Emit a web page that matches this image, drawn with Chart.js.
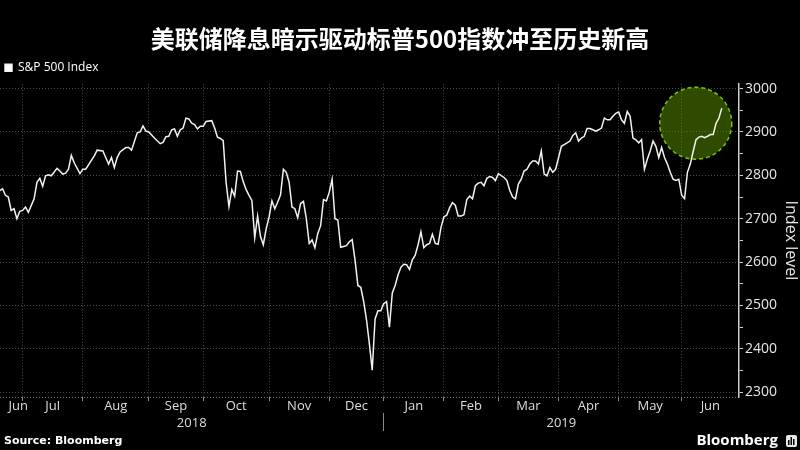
<!DOCTYPE html>
<html>
<head>
<meta charset="utf-8">
<script src="https://cdn.jsdelivr.net/npm/chart.js@4.4.1/dist/chart.umd.min.js"></script>
<style>
  html, body { margin: 0; background: #000; }
</style>
</head>
<body>
<canvas id="myChart" width="800" height="450"></canvas>
<script>
// data block
// trading-day index (0 = first session of Jul 2018) and S&P 500 close
const tradingDay = [
    -8, -7, -6, -5, -4, -3, -2, -1, 0, 1, 2, 4, 5, 6, 7, 8, 9, 10, 12, 13, 14, 15, 16, 17, 18, 20, 21, 22,
    25, 26, 28, 29, 30, 31, 32, 33, 34, 36, 37, 38, 40, 41, 42, 43, 44, 46, 48, 49, 50, 51, 52, 53, 54, 55, 56, 57,
    58, 59, 60, 61, 62, 63, 64,
    66, 67, 68, 69, 70, 71, 72, 73, 74, 75, 76, 77, 78, 79, 80, 81, 82, 83, 84, 85, 86, 87, 88, 89, 90,
    91, 92, 93, 94, 95, 96, 97, 98, 99, 100, 101, 102, 103, 104, 105, 106, 107, 108, 109, 110, 111, 112, 113, 114, 115, 116,
    117, 118, 119, 120, 121, 122, 123, 124, 125, 126, 127, 128, 129, 130, 131, 132, 133, 134, 135, 136,
    137, 138, 139, 140, 141, 142, 143, 144, 145, 146, 147, 148, 149, 150, 151, 152, 153, 154, 155, 156,
    157, 158, 159, 160, 161, 162, 163, 164, 165, 166,
    168, 169, 170, 171, 172, 173, 174, 175, 176, 177, 178, 179, 180, 181, 182, 183, 184, 185, 186, 187, 188, 189,
    191, 192, 193, 194, 195, 196, 197, 198, 199, 200, 201, 202, 203, 204, 205, 206, 207, 208, 209, 210,
    211, 212, 213, 214, 215, 216, 217, 218, 219, 220, 221, 222, 223, 224, 225, 226, 227, 228, 229, 230,
    231, 232, 233, 234, 235, 236, 237, 238, 239, 240, 241, 242, 243, 244
];
const closeValue = [
    2765, 2769, 2754, 2750, 2719, 2723, 2700, 2717, 2719, 2727, 2715, 2746, 2784, 2793, 2775, 2799, 2801, 2799, 2816, 2810, 2803, 2805, 2814, 2846, 2829, 2804, 2814, 2814,
    2845, 2858, 2856, 2841, 2826, 2841, 2818, 2841, 2854, 2864, 2864, 2858, 2898, 2900, 2914, 2902, 2900, 2886, 2873, 2876, 2889, 2890, 2905, 2907, 2890, 2905, 2909, 2932,
    2930, 2920, 2917, 2907, 2913, 2913, 2924,
    2926, 2909, 2888, 2885, 2880, 2784, 2728, 2767, 2752, 2810, 2809, 2785, 2767, 2754, 2742, 2656, 2706, 2659, 2640, 2677, 2704, 2741, 2723, 2738, 2755,
    2814, 2807, 2784, 2727, 2723, 2702, 2735, 2740, 2700, 2643, 2651, 2633, 2666, 2684, 2744, 2741, 2761, 2791, 2700, 2697, 2634, 2636, 2638, 2647, 2652, 2605,
    2546, 2542, 2510, 2467, 2412, 2351, 2469, 2488, 2488, 2504, 2509, 2450, 2529, 2546, 2570, 2588, 2595, 2594, 2583, 2605,
    2616, 2640, 2670, 2633, 2640, 2643, 2664, 2643, 2641, 2680, 2704, 2708, 2725, 2737, 2731, 2706, 2706, 2709, 2744, 2752,
    2746, 2776, 2782, 2784, 2776, 2793, 2797, 2795, 2788, 2804,
    2795, 2788, 2765, 2750, 2746, 2780, 2791, 2810, 2814, 2826, 2833, 2833, 2826, 2856, 2803, 2799, 2818, 2807, 2814, 2840, 2867, 2871,
    2879, 2892, 2898, 2879, 2886, 2890, 2908, 2908, 2905, 2902, 2905, 2909, 2932, 2928, 2928, 2936, 2943, 2946, 2928, 2920,
    2947, 2936, 2886, 2882, 2875, 2882, 2814, 2837, 2856, 2879, 2867, 2841, 2864, 2841, 2826, 2807, 2791, 2788, 2791, 2754,
    2746, 2807, 2826, 2855, 2882, 2888, 2890, 2887, 2890, 2894, 2894, 2920, 2932, 2955
];

// month boundaries (trading-day index) and where the month names sit
const monthStart = [0, 21, 44, 63, 86, 107, 126, 147, 166, 187, 208, 230];
const monthLabelDay = [-1.5, 10.5, 32.5, 53.5, 74.5, 96.5, 116.5, 136.5, 156.5, 176.5, 197.5, 219, 240];
const monthNames = ['Jun', 'Jul', 'Aug', 'Sep', 'Oct', 'Nov', 'Dec', 'Jan', 'Feb', 'Mar', 'Apr', 'May', 'Jun'];
const yearLabelDay = [59, 126, 188];
const yearNames = ['2018', '', '2019'];
const yearBreak = 126;

const yTickValues = [2289, 2300, 2350, 2400, 2450, 2500, 2550, 2600, 2650, 2700, 2750, 2800, 2850, 2900, 2950, 3000];

const xMin = -7.9, xMax = 250;
const yMin = 2289, yMax = 3011;

// the highlighted record-high zone
const highlight = { day: 234.9, level: 2920, radius: 36 };

const points = tradingDay.map((d, i) => ({ x: d, y: closeValue[i] }));

//plugins
const blackBg = {
    id: 'blackBg',
    beforeDraw(chart) {
        const c = chart.ctx;
        c.save();
        c.fillStyle = '#000';
        c.fillRect(0, 0, chart.width, chart.height);
        c.restore();
    }
};

const circleMark = {
    id: 'circleMark',
    beforeDatasetsDraw(chart) {
        const c = chart.ctx;
        const cx = chart.scales.x.getPixelForValue(highlight.day);
        const cy = chart.scales.y.getPixelForValue(highlight.level);
        c.save();
        c.beginPath();
        c.arc(cx, cy, highlight.radius, 0, Math.PI * 2);
        c.fillStyle = 'rgba(92, 150, 0, 0.5)';
        c.fill();
        c.setLineDash([4, 3]);
        c.strokeStyle = '#7cc400';
        c.lineWidth = 1.5;
        c.stroke();
        c.restore();
    }
};

const footer = {
    id: 'footer',
    afterDraw(chart) {
        const c = chart.ctx;
        c.save();
        c.fillStyle = '#fff';
        c.textBaseline = 'middle';
        c.font = 'bold 11px "DejaVu Sans"';
        c.fillText('Source: Bloomberg', 4, 441.5);
        c.textAlign = 'right';
        c.font = 'bold 15px "Open Sans"';
        c.fillText('Bloomberg', 778, 441);
        // little terminal icon
        c.fillStyle = '#e8e8e8';
        c.beginPath();
        c.roundRect(786, 435, 11, 12, 2);
        c.fill();
        c.fillStyle = '#000';
        c.fillRect(788, 440, 1.5, 5);
        c.fillRect(790.5, 437, 1.5, 8);
        c.fillRect(793, 439, 1.5, 6);
        c.restore();
    }
};

Chart.defaults.font.family = '"Open Sans", "DejaVu Sans", sans-serif';

//render block
const ctx = document.getElementById('myChart').getContext('2d');
const myChart = new Chart(ctx, {
    type: 'line',
    data: {
        datasets: [{
            label: 'S&P 500 Index',
            data: points,
            borderColor: '#f2f2f2',
            backgroundColor: '#ffffff',
            borderWidth: 1.5,
            pointRadius: 0,
            tension: 0
        }]
    },
    options: {
        responsive: false,
        animation: false,
        layout: { padding: { left: 0, right: 0, top: 0, bottom: 19 } },
        plugins: {
            title: {
                display: true,
                text: '美联储降息暗示驱动标普500指数冲至历史新高',
                color: '#ffffff',
                font: { family: '"Noto Sans CJK SC"', size: 24, weight: 'bold' },
                padding: { top: 24, bottom: 4 }
            },
            legend: {
                display: true,
                position: 'top',
                align: 'start',
                labels: {
                    color: '#ffffff',
                    boxWidth: 7,
                    boxHeight: 7,
                    padding: 5,
                    font: { size: 12 }
                }
            },
            tooltip: { enabled: false }
        },
        scales: {
            x: {
                type: 'linear',
                position: 'bottom',
                min: xMin,
                max: xMax,
                weight: 0,
                afterBuildTicks: s => { s.ticks = monthStart.map(v => ({ value: v })); },
                afterFit: s => { s.height = 4; },
                ticks: { display: false },
                grid: { color: '#4d4d4d', tickLength: 4, tickColor: '#888' },
                border: { display: false, dash: [1, 2] }
            },
            xMonth: {
                type: 'linear',
                position: 'bottom',
                min: xMin,
                max: xMax,
                weight: 1,
                afterBuildTicks: s => { s.ticks = monthLabelDay.map(v => ({ value: v })); },
                afterFit: s => { s.height = 12; },
                ticks: {
                    autoSkip: false,
                    maxRotation: 0,
                    padding: -3,
                    color: '#dddddd',
                    font: { size: 13 },
                    callback: (v, i) => monthNames[i]
                },
                grid: { display: false, drawTicks: false },
                border: { display: false }
            },
            xYear: {
                type: 'linear',
                position: 'bottom',
                min: xMin,
                max: xMax,
                weight: 2,
                afterBuildTicks: s => { s.ticks = yearLabelDay.map(v => ({ value: v })); },
                afterFit: s => { s.height = 18; },
                ticks: {
                    autoSkip: false,
                    maxRotation: 0,
                    padding: -16,
                    color: '#dddddd',
                    font: { size: 13 },
                    callback: (v, i) => yearNames[i]
                },
                grid: {
                    display: true,
                    drawOnChartArea: false,
                    tickLength: 18,
                    tickColor: c => (c.tick && c.tick.value === yearBreak) ? '#888' : 'rgba(0,0,0,0)'
                },
                border: { display: false }
            },
            y: {
                type: 'linear',
                position: 'right',
                min: yMin,
                max: yMax,
                afterBuildTicks: s => { s.ticks = yTickValues.map(v => ({ value: v })); },
                afterFit: s => { s.width = 61; },
                ticks: {
                    padding: 2,
                    color: '#e6e6e6',
                    font: { size: 14 },
                    callback: v => (v % 100 === 0 ? v : '')
                },
                grid: {
                    tickLength: 4,
                    color: c => {
                        const v = c.tick ? c.tick.value : 0;
                        if (v === yMin) return '#777';
                        return v % 100 === 0 ? '#4d4d4d' : 'rgba(0,0,0,0)';
                    },
                    tickColor: c => (c.tick && c.tick.value === yMin) ? 'rgba(0,0,0,0)' : '#cccccc'
                },
                border: { display: true, color: '#cccccc', width: 1.5, dash: [1, 2] },
                title: {
                    display: true,
                    text: 'Index level',
                    color: '#e6e6e6',
                    font: { size: 16 },
                    padding: 0
                }
            }
        }
    },
    plugins: [blackBg, circleMark, footer]
});
</script>
</body>
</html>
